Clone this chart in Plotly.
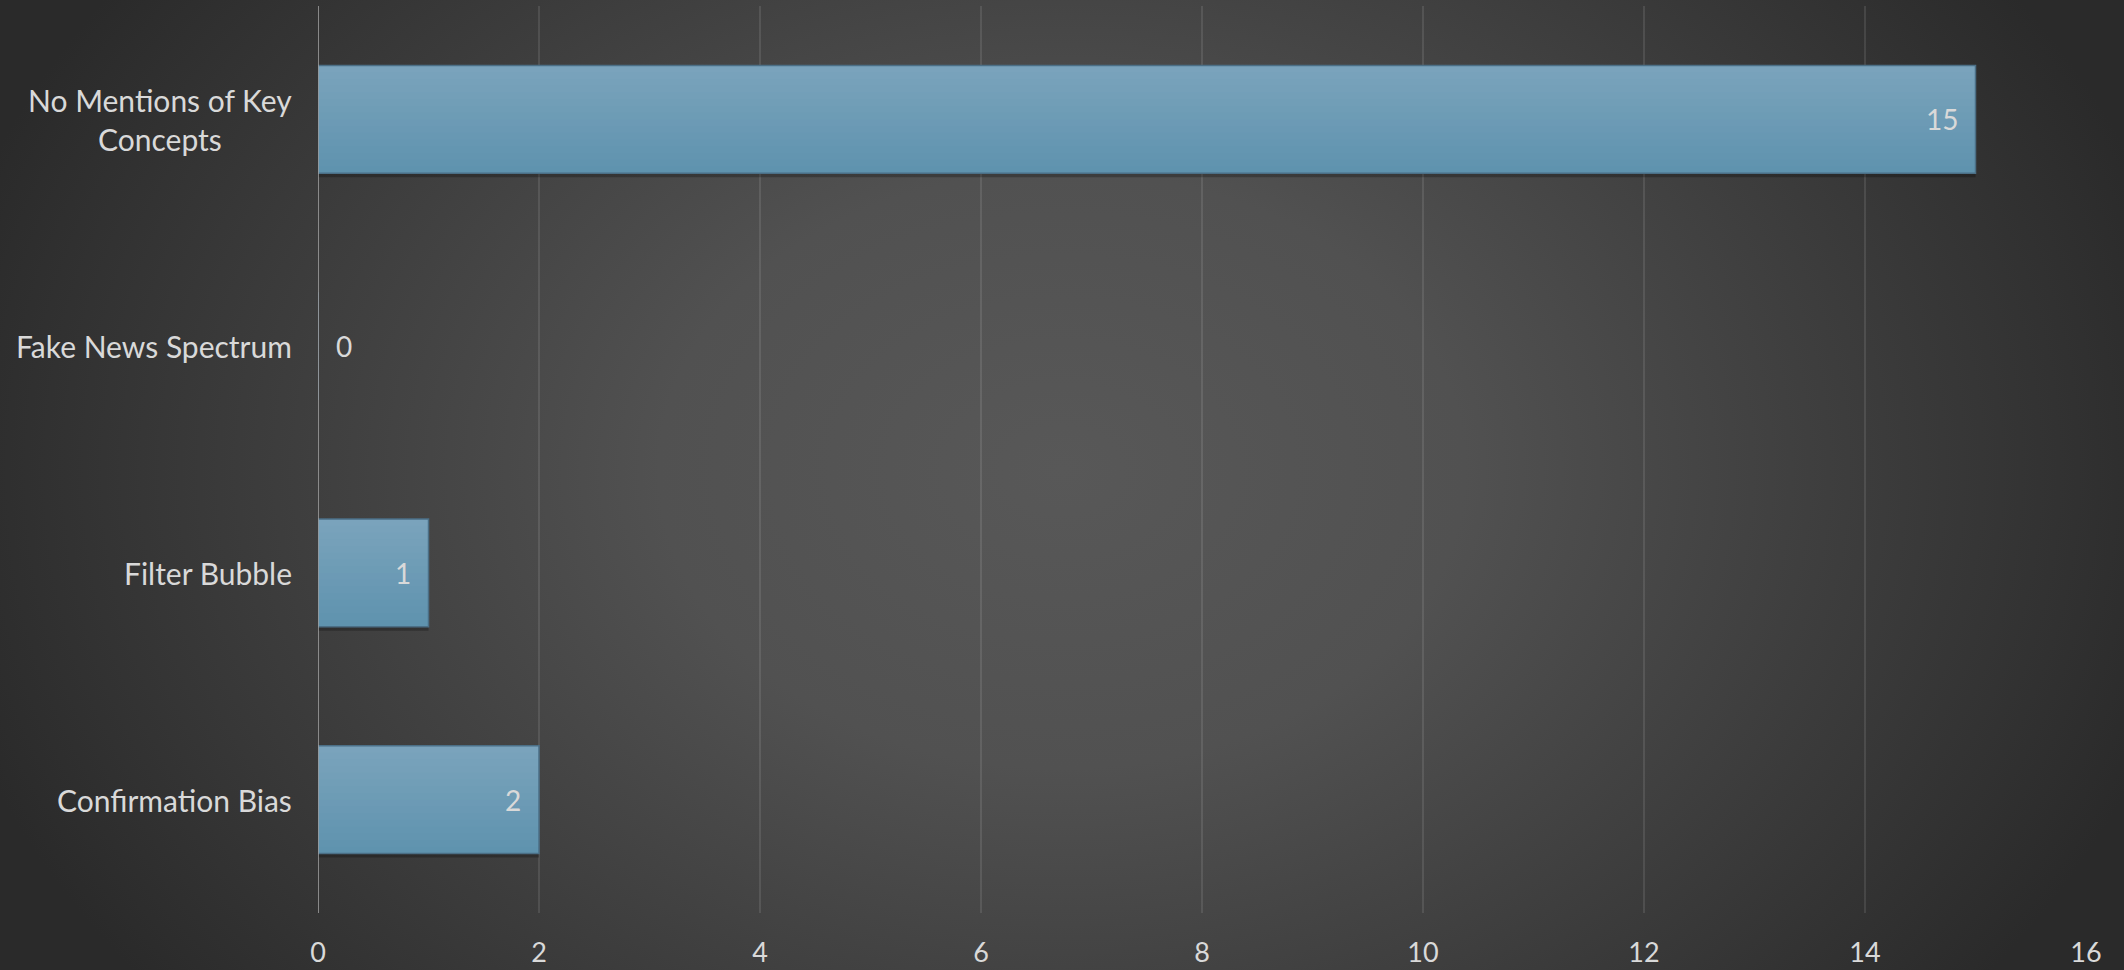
import base64
import plotly.graph_objects as go

# Chart data
categories = ["Confirmation Bias", "Filter Bubble", "Fake News Spectrum", "No Mentions of Key Concepts"]
category_labels = ["Confirmation Bias", "Filter Bubble", "Fake News Spectrum", "No Mentions of Key<br>Concepts"]
counts = [2, 1, 0, 15]
x_ticks = [0, 2, 4, 6, 8, 10, 12, 14, 16]

W, H = 2124, 970
ML, MR, MT, MB = 318, 38, 6, 57
PW, PH = W - ML - MR, H - MT - MB

FONT = "Lato"
TEXT_COLOR = "#d9d9d9"
BAR_W = 0.475

# Dark radial backdrop, lighter toward the middle
svg = f"""<svg xmlns='http://www.w3.org/2000/svg' width='{W}' height='{H}' viewBox='0 0 {W} {H}'>
<defs><radialGradient id='g' gradientUnits='userSpaceOnUse' cx='1062' cy='470' r='1150'
 gradientTransform='translate(1062 470) scale(1 0.74) translate(-1062 -470)'>
<stop offset='0' stop-color='#585858'/>
<stop offset='0.35' stop-color='#515151'/>
<stop offset='0.7' stop-color='#3c3c3c'/>
<stop offset='1' stop-color='#2a2a2a'/>
</radialGradient></defs>
<rect width='{W}' height='{H}' fill='url(#g)'/></svg>"""
bg_src = "data:image/svg+xml;base64," + base64.b64encode(svg.encode()).decode()


def mix(c0, c1, t):
    a = [int(c0[i:i + 2], 16) for i in (1, 3, 5)]
    b = [int(c1[i:i + 2], 16) for i in (1, 3, 5)]
    return "#" + "".join(f"{round(p + (q - p) * t):02x}" for p, q in zip(a, b))


fig = go.Figure()

# Soft drop shadow under each bar
fig.add_trace(go.Bar(
    y=categories, x=counts, orientation="h", width=BAR_W,
    marker=dict(color="rgba(0,0,0,0.25)", line=dict(width=0)),
    offset=-BAR_W / 2 - 0.018, hoverinfo="skip", showlegend=False,
))

# Bar fill drawn as overlapping horizontal bands: darker at the bottom, lighter at the top
N_BANDS = 16
band = BAR_W / N_BANDS
for i in range(N_BANDS):
    w = band if i == N_BANDS - 1 else band * 1.8
    fig.add_trace(go.Bar(
        y=categories, x=counts, orientation="h", width=w,
        offset=-BAR_W / 2 + i * band,
        marker=dict(color=mix("#5f93ae", "#7aa3bc", i / (N_BANDS - 1)), line=dict(width=0)),
        hoverinfo="skip", showlegend=False,
    ))

# Bar outline
fig.add_trace(go.Bar(
    y=categories, x=counts, orientation="h", width=BAR_W, offset=-BAR_W / 2,
    marker=dict(color="rgba(0,0,0,0)", line=dict(color="#4b6f86", width=1.5)),
    showlegend=False,
))

# Value labels at the bar ends
for cat, v in zip(categories, counts):
    fig.add_annotation(
        x=v, y=cat, xref="x", yref="y", text=str(v), showarrow=False,
        xanchor="right" if v > 0 else "left", xshift=-16 if v > 0 else 16,
        font=dict(family=FONT, size=28, color=TEXT_COLOR),
    )

# Category labels, centred lines, to the left of the axis
for cat, lab in zip(categories, category_labels):
    fig.add_annotation(
        x=0, y=cat, xref="paper", yref="y", text=lab, showarrow=False,
        xanchor="right", xshift=-24, align="center",
        font=dict(family=FONT, size=30, color=TEXT_COLOR),
    )

fig.add_layout_image(dict(
    source=bg_src, xref="paper", yref="paper",
    x=-ML / PW, y=1 + MT / PH, sizex=W / PW, sizey=H / PH,
    xanchor="left", yanchor="top", sizing="stretch", layer="below",
))

fig.update_layout(
    width=W, height=H,
    margin=dict(l=ML, r=MR, t=MT, b=MB, pad=0, autoexpand=False),
    paper_bgcolor="#2b2b2b", plot_bgcolor="rgba(0,0,0,0)",
    barmode="overlay",
    font=dict(family=FONT, size=28, color=TEXT_COLOR),
    xaxis=dict(
        range=[0, 16], tickvals=x_ticks, ticktext=[str(t) for t in x_ticks],
        showgrid=True, gridcolor="rgba(255,255,255,0.10)", gridwidth=1.5,
        zeroline=False, showline=False, ticks="", ticklabelstandoff=21,
        automargin=False,
        tickfont=dict(family=FONT, size=27, color=TEXT_COLOR),
    ),
    yaxis=dict(
        categoryorder="array", categoryarray=categories, range=[-0.5, 3.5],
        showticklabels=False, showgrid=False, zeroline=False,
        showline=False, ticks="", automargin=False,
    ),
    shapes=[dict(type="line", xref="x", yref="paper", x0=0, x1=0, y0=0, y1=1,
                 line=dict(color="#a6a6a6", width=1.5), layer="above")],
)

fig.write_html("out.html")
